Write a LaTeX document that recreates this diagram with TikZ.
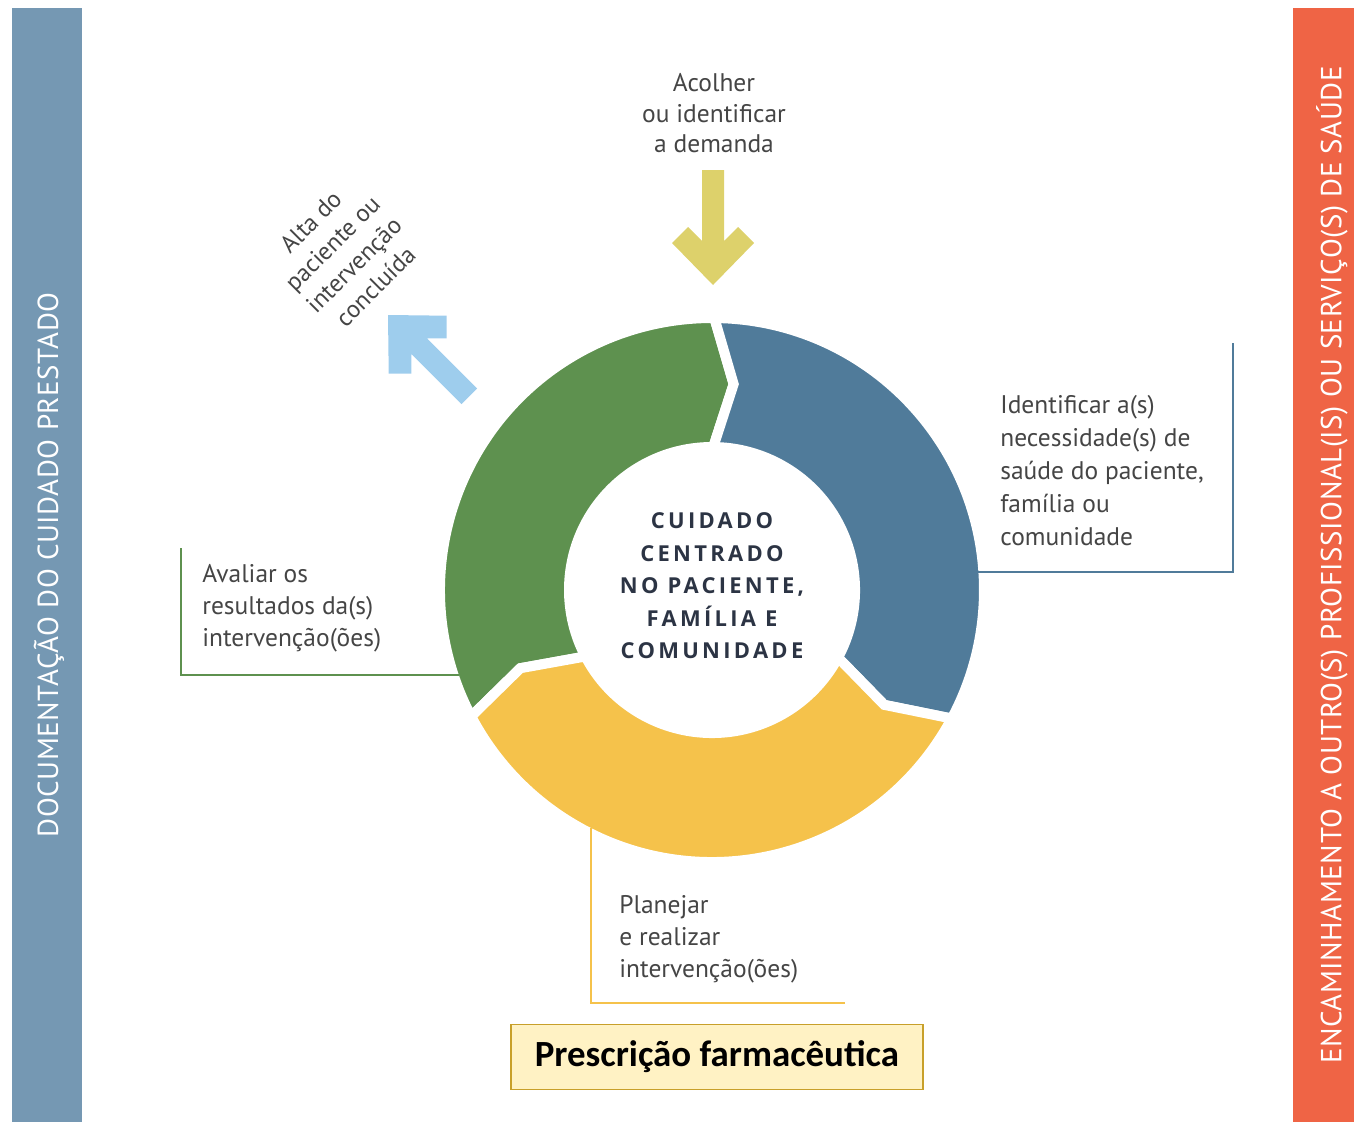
\documentclass[tikz,border=0pt]{standalone}
\usepackage{fontspec}
\setmainfont{PT Sans}
\newfontfamily\centerfont[LetterSpace=15]{Open Sans}
\newfontfamily\boxfont{Carlito}
\newfontfamily\barfont[LetterSpace=2]{PT Sans}

\definecolor{barblue}{HTML}{7598B3}
\definecolor{barred}{HTML}{EF6445}
\definecolor{ringgreen}{HTML}{5E914F}
\definecolor{ringblue}{HTML}{507B9A}
\definecolor{ringyellow}{HTML}{F5C24B}
\definecolor{arrowkhaki}{HTML}{DDD16B}
\definecolor{arrowsky}{HTML}{9ECDED}
\definecolor{labelgray}{HTML}{454545}
\definecolor{centerink}{HTML}{2C3444}
\definecolor{boxfill}{HTML}{FFF2C4}
\definecolor{boxline}{HTML}{C8A02A}

\tikzset{
  stagetext/.style={font=\fontsize{14.5}{18.8}\selectfont, text=labelgray, inner sep=0pt, align=left},
  bartext/.style={font=\barfont\fontsize{16.5}{18}\selectfont, text=white, rotate=90, inner sep=0pt},
  bracket/.style={line width=0.9pt},
  rxbox/.style={draw=boxline, line width=1.1pt, fill=boxfill, minimum width=8.24cm, minimum height=1.3cm,
    font=\boxfont\bfseries\fontsize{21}{23}\selectfont},
  fatarrow/.pic={\fill (0,0) -- (-42,41) -- (-58,25) -- (-44,11) -- (-115,11) -- (-115,-11)
    -- (-44,-11) -- (-58,-25) -- (-42,-41) -- cycle;}
}

% one piece of the ring: #1 colour, #2 front angle, #3 back angle
\newcommand{\ringpart}[3]{%
  \filldraw[fill=#1, draw=white, line width=5.7pt]
    (#3:272) arc[start angle=#3, end angle=#2, radius=272] -- (#2-5.5:207)
    -- (#2:143) arc[start angle=#2, end angle=#3, radius=143] -- (#3-5.5:207) -- cycle;}

\begin{document}
\begin{tikzpicture}[x=0.02cm, y=0.02cm]
  \useasboundingbox (0,0) rectangle (1354,-1122);

  % side bars
  \fill[barblue] (12,-8) rectangle (82,-1122);
  \fill[barred] (1293,-8) rectangle (1354,-1122);
  \node[bartext] (doc) at (49,-565) {DOCUMENTAÇÃO DO CUIDADO PRESTADO};
  \node[bartext] (enc) at (1332,-565) {ENCAMINHAMENTO A OUTRO(S) PROFISSIONAL(IS) OU SERVIÇO(S) DE SAÚDE};

  % ring
  \begin{scope}[shift={(712,-590)}]
    \ringpart{ringgreen}{89.5}{207.7}
    \ringpart{ringblue}{-28.2}{89.5}
    \ringpart{ringyellow}{-152.3}{-28.2}
  \end{scope}
  \node[font=\centerfont\bfseries\fontsize{12.5}{18.5}\selectfont, text=centerink, align=center] (core) at (712,-586)
    {CUIDADO\\CENTRADO\\NO PACIENTE,\\FAMÍLIA E\\COMUNIDADE};

  % arrows
  \pic[fill=arrowkhaki, rotate=-90] (entry) at (713,-285) {fatarrow};
  \pic[fill=arrowsky, rotate=135] (exit) at (388,-315) {fatarrow};

  \node[stagetext, align=center, anchor=north, font=\fontsize{14.5}{17.4}\selectfont] (acolher) at (714,-73)
    {Acolher\\ou identificar\\a demanda};
  \node[stagetext, align=center, rotate=45, font=\fontsize{14}{17.4}\selectfont] (alta) at (343,-254)
    {Alta do\\paciente ou\\intervenção\\concluída};

  % brackets
  \coordinate (bluetop) at (1233,-343);
  \coordinate (bluecorner) at (1233,-572);
  \coordinate (blueend) at (978,-572);
  \draw[bracket, ringblue] (bluetop) -- (bluecorner) -- (blueend);
  \coordinate (greentop) at (181,-548);
  \coordinate (greencorner) at (181,-675);
  \coordinate (greenend) at (459,-675);
  \draw[bracket, ringgreen] (greentop) -- (greencorner) -- (greenend);
  \coordinate (yellowtop) at (591,-828);
  \coordinate (yellowcorner) at (591,-1003);
  \coordinate (yellowend) at (845,-1003);
  \draw[bracket, ringyellow] (yellowtop) -- (yellowcorner) -- (yellowend);

  \node[stagetext, anchor=north west] (identificar) at (1000,-395)
    {Identificar a(s)\\necessidade(s) de\\saúde do paciente,\\família ou\\comunidade};
  \node[stagetext, anchor=north west, font=\fontsize{14.5}{18.2}\selectfont] (avaliar) at (202,-564)
    {Avaliar os\\resultados da(s)\\intervenção(ões)};
  \node[stagetext, anchor=north west, font=\fontsize{14.5}{18.2}\selectfont] (planejar) at (619,-895)
    {Planejar\\e realizar\\intervenção(ões)};

  \node[rxbox] (rx) at (717,-1057) {Prescrição farmacêutica};
\end{tikzpicture}
\end{document}
